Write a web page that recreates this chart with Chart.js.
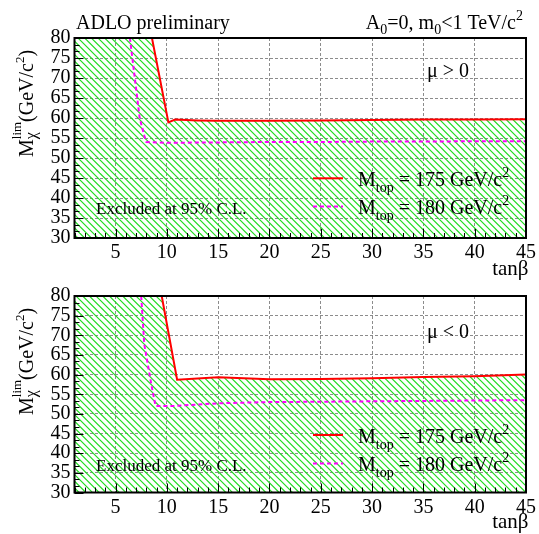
<!DOCTYPE html>
<html>
<head>
<meta charset="utf-8">
<script src="https://cdn.jsdelivr.net/npm/chart.js@4.4.1/dist/chart.umd.min.js"></script>
<style>
  html, body { margin: 0; padding: 0; background: #fff; }
  canvas { display: block; }
</style>
</head>
<body>
<canvas id="pos" width="539" height="280"></canvas>
<canvas id="neg" width="539" height="254"></canvas>
<script>
// axis ranges and tick labels
const tanbRange = [1, 45];
const massRange = [30, 80];
const tanbTicks = [5, 10, 15, 20, 25, 30, 35, 40, 45];
const massTicks = [30, 35, 40, 45, 50, 55, 60, 65, 70, 75, 80];
const topMasses = [175, 180];

// mu > 0 : chargino mass limit vs tan(beta)
const tanbPos175 = [8.55, 10.15, 10.8, 13, 15, 20, 25, 30, 35, 40, 45];
const mlimPos175 = [80, 58.9, 59.6, 59.4, 59.3, 59.3, 59.4, 59.5, 59.6, 59.6, 59.7];
const tanbPos180 = [6.4, 7.35, 7.8, 8.0, 10, 15, 20, 25, 30, 35, 40, 45];
const mlimPos180 = [80, 60, 55.6, 54.0, 53.8, 53.9, 54.0, 54.0, 54.1, 54.1, 54.2, 54.2];

// mu < 0
const tanbNeg175 = [9.5, 11.0, 15, 20, 25, 30, 35, 40, 45];
const mlimNeg175 = [80, 58.7, 59.3, 58.8, 58.9, 59.1, 59.4, 59.6, 60.0];
const tanbNeg180 = [7.5, 7.8, 8.5, 8.9, 10.5, 15, 20, 25, 30, 35, 40, 45];
const mlimNeg180 = [80, 67.7, 57.3, 52.0, 52.0, 52.7, 53.0, 53.1, 53.2, 53.3, 53.4, 53.5];

const SERIF = '"Liberation Serif", "DejaVu Serif", serif';
Chart.defaults.font.family = SERIF;
Chart.defaults.font.size = 20;
Chart.defaults.color = '#000';

function pts(xs, ys) {
  return xs.map((x, i) => ({ x: x, y: ys[i] }));
}

// green "\\\\" hatching, 3 lines per 20px tile
function hatch() {
  const c = document.createElement('canvas');
  c.width = 20; c.height = 20;
  const g = c.getContext('2d');
  g.strokeStyle = 'rgb(30,220,30)';
  g.lineWidth = 1.15;
  for (let k = -3; k <= 3; k++) {
    const o = k * 20 / 3;
    g.beginPath();
    g.moveTo(o - 2, -2);
    g.lineTo(o + 22, 22);
    g.stroke();
  }
  return g.createPattern(c, 'repeat');
}

// parts: [text, size, dy, keepPen]
function rich(ctx, x, y, parts, align) {
  let w = 0;
  parts.forEach(p => {
    ctx.font = p[1] + 'px ' + SERIF;
    if (!p[3]) w += ctx.measureText(p[0]).width;
  });
  let cx = align === 'right' ? x - w : x;
  parts.forEach(p => {
    ctx.font = p[1] + 'px ' + SERIF;
    ctx.fillText(p[0], cx, y + (p[2] || 0));
    if (!p[3]) cx += ctx.measureText(p[0]).width;
  });
}

function decor(cfg) {
  return {
    id: 'decor',
    afterDraw(chart) {
      const ctx = chart.ctx, a = chart.chartArea;
      const xs = chart.scales.x, ys = chart.scales.y;
      ctx.save();
      ctx.strokeStyle = '#000';
      ctx.fillStyle = '#000';
      ctx.lineWidth = 1;
      for (let v = tanbRange[0]; v <= tanbRange[1]; v++) {
        const px = Math.round(xs.getPixelForValue(v)) + 0.5;
        const len = v % 5 === 0 ? 9 : 5;
        ctx.beginPath(); ctx.moveTo(px, a.bottom); ctx.lineTo(px, a.bottom - len); ctx.stroke();
      }
      for (let i = 0; i <= 30; i++) {
        const py = Math.round(ys.getPixelForValue(massRange[0] + i * 5 / 3)) + 0.5;
        const len = i % 3 === 0 ? 9 : 5;
        ctx.beginPath(); ctx.moveTo(a.left, py); ctx.lineTo(a.left + len, py); ctx.stroke();
      }
      ctx.lineWidth = 2;
      ctx.strokeRect(a.left, a.top, a.right - a.left, a.bottom - a.top);

      ctx.textBaseline = 'alphabetic';
      const T = a.top, B = a.bottom;
      if (cfg.header) {
        rich(ctx, 76, T - 9.5, [['ADLO preliminary', 20]]);
        rich(ctx, 523, T - 9.5, [['A', 20], ['0', 14, 5], ['=0, m', 20], ['0', 14, 5],
          ['<1 TeV/c', 20], ['2', 14, -9]], 'right');
      }
      rich(ctx, 427, T + cfg.muY, [[cfg.mu, 20]]);
      rich(ctx, 96, T + cfg.exclY, [['Excluded at 95% C.L.', 17]]);
      rich(ctx, 528.5, B + cfg.tanbY, [['tanβ', 21]], 'right');

      // legend
      const ds = chart.data.datasets;
      [0, 1].forEach(i => {
        const ly = T + cfg.legY[i];
        ctx.strokeStyle = ds[i].borderColor;
        ctx.lineWidth = 2;
        ctx.setLineDash(ds[i].borderDash || []);
        ctx.beginPath(); ctx.moveTo(313, ly); ctx.lineTo(343, ly); ctx.stroke();
        ctx.setLineDash([]);
        rich(ctx, 358, ly + 7.5, [['M', 20], ['top', 14, 6], [' = ' + topMasses[i] + ' GeV/c', 20], ['2', 14, -9]]);
      });

      // y axis title
      ctx.translate(33, T + 119);
      ctx.rotate(-Math.PI / 2);
      rich(ctx, 0, 0, [['M', 20], ['χ', 16, 3, true], ['lim', 13, -12], ['(GeV/c', 20], ['2', 13, -9], [')', 20]]);
      ctx.restore();
    }
  };
}

function panel(id, cfg, red, mag) {
  const fillPts = [{ x: tanbRange[0], y: massRange[1] }].concat(red);
  const h = document.getElementById(id).height;
  return new Chart(document.getElementById(id), {
    type: 'line',
    data: {
      datasets: [
        { label: 'M_top = 175 GeV/c2', data: red, borderColor: '#ff0000', borderWidth: 2,
          pointRadius: 0, fill: false, order: 1 },
        { label: 'M_top = 180 GeV/c2', data: mag, borderColor: '#ff00ff', borderWidth: 2,
          borderDash: [4, 3], pointRadius: 0, fill: false, order: 2 },
        { label: 'Excluded at 95% C.L.', data: fillPts, borderWidth: 0, borderColor: 'rgba(0,0,0,0)',
          backgroundColor: hatch(), pointRadius: 0, fill: 'start', order: 3 }
      ]
    },
    options: {
      responsive: false,
      animation: false,
      layout: { padding: { top: cfg.top, right: 10.5, left: 0, bottom: 0 } },
      plugins: { legend: { display: false }, tooltip: { enabled: false } },
      scales: {
        x: {
          type: 'linear', min: tanbRange[0], max: tanbRange[1],
          afterBuildTicks: s => { s.ticks = tanbTicks.map(v => ({ value: v })); },
          afterFit: s => { s.height = h - cfg.top - cfg.plotH; },
          grid: { color: '#8c8c8c', lineWidth: 1, drawTicks: false },
          border: { display: false, dash: [3, 2] },
          ticks: { padding: 3, maxRotation: 0, autoSkip: false, font: { size: 20 } }
        },
        y: {
          type: 'linear', min: massRange[0], max: massRange[1],
          afterBuildTicks: s => { s.ticks = massTicks.map(v => ({ value: v })); },
          afterFit: s => { s.width = 74.5; },
          grid: { color: '#8c8c8c', lineWidth: 1, drawTicks: false },
          border: { display: false, dash: [3, 2] },
          ticks: { padding: 4, autoSkip: false, font: { size: 20 } }
        }
      }
    },
    plugins: [decor(cfg)]
  });
}

panel('pos', { header: true, top: 38, plotH: 200, mu: 'μ > 0', muY: 39, exclY: 176,
  legY: [140.3, 168.5], tanbY: 37 },
  pts(tanbPos175, mlimPos175), pts(tanbPos180, mlimPos180));
panel('neg', { header: false, top: 14.3, plotH: 198.2, mu: 'μ < 0', muY: 42.4, exclY: 175,
  legY: [139, 167.4], tanbY: 35.5 },
  pts(tanbNeg175, mlimNeg175), pts(tanbNeg180, mlimNeg180));
</script>
</body>
</html>
